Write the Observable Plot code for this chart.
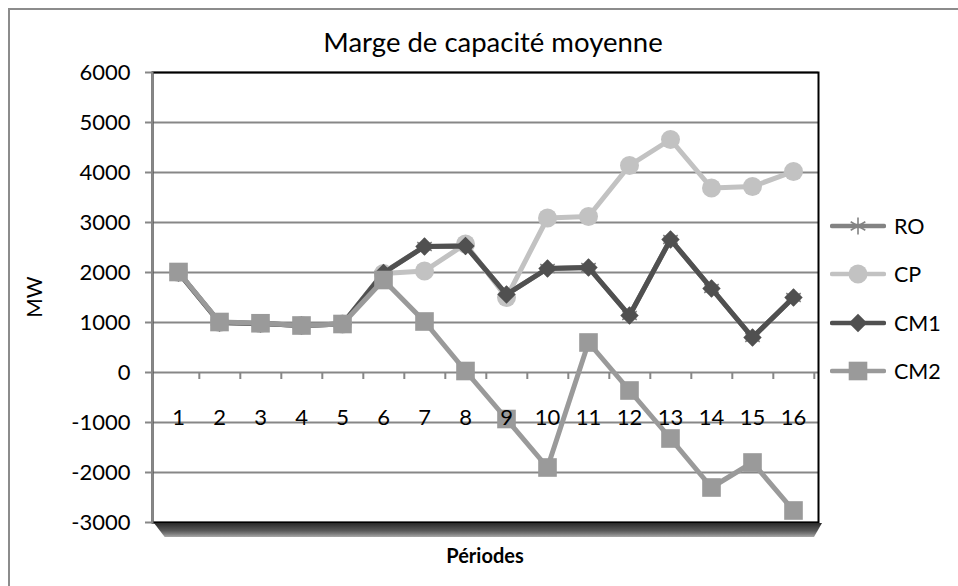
<!DOCTYPE html>
<html>
<head>
<meta charset="utf-8">
<script src="https://cdn.jsdelivr.net/npm/d3@7"></script>
<script src="https://cdn.jsdelivr.net/npm/@observablehq/plot@0.6"></script>
<style>
  html, body { margin: 0; padding: 0; background: #fff; }
  #chart { position: relative; width: 958px; height: 586px; overflow: hidden; font-family: Lato, "Open Sans", sans-serif; color: #000; }
  #chart svg.plot { position: absolute; left: 0; top: 0; }
  #border { position: absolute; left: 8px; top: 8px; width: 980px; height: 600px; border: 2px solid #8c8c8c; box-sizing: border-box; }
  #title { position: absolute; left: 493px; top: 28px; transform: translateX(-50%); white-space: nowrap; font-size: 27.5px; line-height: 27.5px; }
  #ylabel { position: absolute; left: 33px; top: 297px; transform: translate(-50%, -50%) rotate(-90deg); font-size: 21px; line-height: 21px; }
  #xlabel { position: absolute; left: 485px; top: 545px; transform: translateX(-50%); font-size: 20px; line-height: 20px; font-weight: bold; }
  #floor { position: absolute; left: 154px; top: 523px; width: 668px; height: 14px;
           background: linear-gradient(#2a2a2a 0%, #444 30%, #595959 55%, #7d7d7d 78%, #a9a9a9 100%);
           clip-path: polygon(0 0, 100% 0, 98.8% 100%, 1.6% 100%); }
  #legend { position: absolute; left: 830px; top: 0; }
  .item { position: absolute; left: 0; display: flex; align-items: center; white-space: nowrap; font-size: 21.5px; line-height: 22px; }
  .item svg { display: block; margin-right: 8px; }
</style>
</head>
<body>
<div id="chart">
  <div id="border"></div>
</div>
<script>
// Périodes (categories on the x axis)
const periods = [1, 2, 3, 4, 5, 6, 7, 8, 9, 10, 11, 12, 13, 14, 15, 16];

// Y-axis tick values (MW)
const yTicks = [-3000, -2000, -1000, 0, 1000, 2000, 3000, 4000, 5000, 6000];

// Average capacity margin per period, MW
const ro  = [2000, 1000, 980, 940, 970, 2000, 2520, 2530, 1560, 2080, 2100, 1140, 2660, 1680, 700, 1500];
const cp  = [2000, 1000, 980, 940, 970, 1980, 2030, 2570, 1500, 3090, 3120, 4140, 4660, 3690, 3720, 4020];
const cm1 = [2000, 1000, 980, 940, 970, 1990, 2520, 2530, 1560, 2080, 2100, 1140, 2660, 1680, 700, 1500];
const cm2 = [2010, 1010, 985, 940, 970, 1850, 1020, 30, -930, -1900, 600, -360, -1320, -2300, -1800, -2760];

const seriesNames = ["RO", "CP", "CM1", "CM2"];
const seriesValues = [ro, cp, cm1, cm2];

// Drawing style per series, in drawing order (later ones on top)
const styles = {
  RO:  { color: "#838383", symbol: "asterisk", r: 8,   fill: "none",    stroke: "#838383", sw: 1.6 },
  CP:  { color: "#c2c2c2", symbol: "circle",   r: 9.5, fill: "#c2c2c2", stroke: "none",    sw: 0 },
  CM1: { color: "#505050", symbol: "diamond2", r: 8.3, fill: "#505050", stroke: "none",    sw: 0 },
  CM2: { color: "#9a9a9a", symbol: "square",   r: 10.5, fill: "#9a9a9a", stroke: "none",   sw: 0 }
};

const rows = seriesNames.flatMap((name, k) =>
  seriesValues[k].map((v, i) => ({ series: name, period: periods[i], value: v }))
);

const W = 958, H = 586;
const margin = { left: 152, right: 140, top: 72, bottom: 64 };
const step = (W - margin.left - margin.right) / periods.length; // width of one category

const seriesMarks = seriesNames.flatMap(name => {
  const s = styles[name];
  const data = rows.filter(d => d.series === name);
  return [
    Plot.line(data, { x: "period", y: "value", stroke: s.color, strokeWidth: 5, strokeLinejoin: "miter", strokeLinecap: "butt" }),
    Plot.dot(data, { x: "period", y: "value", symbol: () => s.symbol, r: s.r, fill: s.fill, stroke: s.stroke, strokeWidth: s.sw })
  ];
});

const plot = Plot.plot({
  width: W,
  height: H,
  marginLeft: margin.left,
  marginRight: margin.right,
  marginTop: margin.top,
  marginBottom: margin.bottom,
  style: { fontFamily: "Lato, 'Open Sans', sans-serif", fontSize: "22px", color: "#000", background: "transparent" },
  x: { type: "point", domain: periods, padding: 0.5, axis: null },
  y: { domain: [-3000, 6000], axis: null },
  marks: [
    Plot.gridY(yTicks, { stroke: "#878787", strokeOpacity: 1, strokeWidth: 2 }),
    Plot.frame({ stroke: "#000", strokeWidth: 2 }),
    Plot.frame({ anchor: "left", stroke: "#878787", strokeWidth: 2 }),
    Plot.axisY(yTicks, { tickSize: 7, tickPadding: 15, stroke: "#878787", strokeWidth: 2, fontSize: 22, tickFormat: d => String(d), label: null }),
    // category separator ticks hanging below the zero line (140 MW = tick length)
    Plot.ruleX(periods, { x: d => d, dx: step / 2, y1: 0, y2: -140, stroke: "#878787", strokeWidth: 2 }),
    ...seriesMarks,
    // category labels are drawn over the series
    Plot.text(periods, { x: d => d, y: 0, dy: 45, text: d => String(d), fontSize: 22, fill: "#000" })
  ]
});
plot.classList.add("plot");

const chart = document.getElementById("chart");
chart.appendChild(plot);

const floor = document.createElement("div");
floor.id = "floor";
chart.appendChild(floor);

const title = document.createElement("div");
title.id = "title";
title.textContent = "Marge de capacité moyenne";
chart.appendChild(title);

const ylabel = document.createElement("div");
ylabel.id = "ylabel";
ylabel.textContent = "MW";
chart.appendChild(ylabel);

const xlabel = document.createElement("div");
xlabel.id = "xlabel";
xlabel.textContent = "Périodes";
chart.appendChild(xlabel);

// Legend: line + marker swatch, then series name
const legend = document.createElement("div");
legend.id = "legend";
const legendTops = [215, 263, 312, 360];
const symbolMap = { asterisk: d3.symbolAsterisk, circle: d3.symbolCircle, diamond2: d3.symbolDiamond2, square: d3.symbolSquare };
seriesNames.forEach((name, k) => {
  const s = styles[name];
  const item = document.createElement("div");
  item.className = "item";
  item.style.top = legendTops[k] + "px";
  const svg = d3.create("svg").attr("width", 56).attr("height", 22);
  svg.append("line").attr("x1", 2).attr("x2", 54).attr("y1", 11).attr("y2", 11)
    .attr("stroke", s.color).attr("stroke-width", 4.5).attr("stroke-linecap", "round");
  const path = d3.symbol(symbolMap[s.symbol], Math.PI * s.r * s.r)();
  svg.append("path").attr("d", path).attr("transform", "translate(28,11)")
    .attr("fill", s.fill).attr("stroke", s.stroke).attr("stroke-width", s.sw);
  item.appendChild(svg.node());
  const label = document.createElement("span");
  label.textContent = name;
  item.appendChild(label);
  legend.appendChild(item);
});
chart.appendChild(legend);
</script>
</body>
</html>
